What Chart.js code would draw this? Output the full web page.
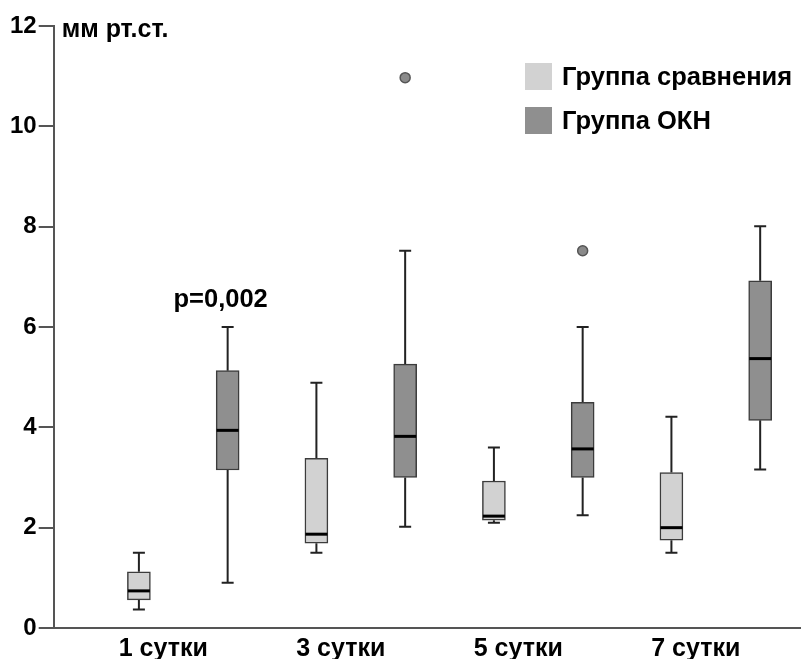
<!DOCTYPE html>
<html>
<head>
<meta charset="utf-8">
<script src="https://cdn.jsdelivr.net/npm/chart.js@4.4.0/dist/chart.umd.min.js"></script>
<style>
html, body { margin: 0; padding: 0; background: #fff; overflow: hidden; }
canvas { display: block; }
</style>
</head>
<body>
<canvas id="chart" width="801" height="659"></canvas>
<script>
var categories = ['1 сутки', '3 сутки', '5 сутки', '7 сутки'];
var yTicks = [0, 2, 4, 6, 8, 10, 12];

// Группа сравнения
var cmp_min = [0.37, 1.50, 2.10, 1.50];
var cmp_q1 = [0.56, 1.69, 2.15, 1.75];
var cmp_med = [0.74, 1.87, 2.23, 2.00];
var cmp_q3 = [1.12, 3.38, 2.93, 3.10];
var cmp_max = [1.50, 4.89, 3.60, 4.21];

// Группа ОКН
var okn_min = [0.90, 2.02, 2.25, 3.16];
var okn_q1 = [3.15, 3.00, 3.00, 4.14];
var okn_med = [3.94, 3.82, 3.57, 5.37];
var okn_q3 = [5.13, 5.26, 4.50, 6.92];
var okn_max = [6.00, 7.52, 6.00, 8.01];
var okn_outliers = [[], [10.97], [7.52], []];

var FONT = '"Liberation Sans", Arial, sans-serif';
var cmpShift = -0.25, oknShift = 0.25;

function boxData(q1, q3, shift) {
    return q1.map(function (v, i) { return {x: i + 1 + shift, y: [v, q3[i]]}; });
}

var outlierPoints = [];
okn_outliers.forEach(function (arr, i) {
    arr.forEach(function (v) { outlierPoints.push({x: i + 1 + oknShift, y: v}); });
});

var groups = [
    {shift: cmpShift, min: cmp_min, med: cmp_med, q1: cmp_q1, q3: cmp_q3, max: cmp_max},
    {shift: oknShift, min: okn_min, med: okn_med, q1: okn_q1, q3: okn_q3, max: okn_max}
];

// усы рисуем под коробками, медианы и подписи - поверх
var boxPlugin = {
    id: 'boxPlugin',
    beforeDatasetsDraw: function (chart) {
        var ctx = chart.ctx, xs = chart.scales.x, ys = chart.scales.y;
        ctx.save();
        ctx.strokeStyle = '#222';
        ctx.lineWidth = 2;
        groups.forEach(function (g) {
            for (var i = 0; i < categories.length; ++i) {
                var x = xs.getPixelForValue(i + 1 + g.shift);
                var yMin = ys.getPixelForValue(g.min[i]), yMax = ys.getPixelForValue(g.max[i]);
                ctx.beginPath();
                ctx.moveTo(x, yMin); ctx.lineTo(x, ys.getPixelForValue(g.q1[i]));
                ctx.moveTo(x, yMax); ctx.lineTo(x, ys.getPixelForValue(g.q3[i]));
                ctx.moveTo(x - 6, yMin); ctx.lineTo(x + 6, yMin);
                ctx.moveTo(x - 6, yMax); ctx.lineTo(x + 6, yMax);
                ctx.stroke();
            }
        });
        ctx.restore();
    },
    afterDatasetsDraw: function (chart) {
        var ctx = chart.ctx, xs = chart.scales.x, ys = chart.scales.y, area = chart.chartArea;
        ctx.save();
        ctx.strokeStyle = '#000';
        ctx.lineWidth = 3;
        groups.forEach(function (g) {
            for (var i = 0; i < categories.length; ++i) {
                var x = xs.getPixelForValue(i + 1 + g.shift);
                var y = ys.getPixelForValue(g.med[i]);
                ctx.beginPath();
                ctx.moveTo(x - 11, y); ctx.lineTo(x + 11, y);
                ctx.stroke();
            }
        });

        ctx.fillStyle = '#000';
        ctx.font = 'bold 25px ' + FONT;
        ctx.textAlign = 'left';
        ctx.textBaseline = 'alphabetic';
        ctx.fillText('мм рт.ст.', area.left + 8, 37);

        ctx.font = 'bold 25.5px ' + FONT;
        ctx.textAlign = 'center';
        ctx.fillText('p=0,002', xs.getPixelForValue(1 + oknShift) - 7, ys.getPixelForValue(okn_max[0]) - 20);

        // легенда
        var lx = area.right - 276, ly = area.top + 37;
        chart.data.datasets.forEach(function (ds, k) {
            if (ds.type === 'scatter') return;
            var y = ly + k * 44;
            ctx.fillStyle = ds.backgroundColor;
            ctx.fillRect(lx, y, 27, 27);
            ctx.fillStyle = '#000';
            ctx.textAlign = 'left';
            ctx.textBaseline = 'middle';
            ctx.fillText(ds.label, lx + 37, y + 15);
        });
        ctx.restore();
    }
};

var ctx = document.getElementById('chart').getContext('2d');
var chart = new Chart(ctx, {
    type: 'bar',
    data: {
        datasets: [{
            label: 'Группа сравнения',
            data: boxData(cmp_q1, cmp_q3, cmpShift),
            backgroundColor: '#d2d2d2',
            borderColor: '#3c3c3c',
            borderWidth: 1.5,
            borderSkipped: false,
            barThickness: 23,
            grouped: false
        }, {
            label: 'Группа ОКН',
            data: boxData(okn_q1, okn_q3, oknShift),
            backgroundColor: '#8f8f8f',
            borderColor: '#3c3c3c',
            borderWidth: 1.5,
            borderSkipped: false,
            barThickness: 23,
            grouped: false
        }, {
            type: 'scatter',
            label: 'outliers',
            data: outlierPoints,
            pointRadius: 5,
            backgroundColor: '#8a8a8a',
            borderColor: '#555',
            borderWidth: 1.5
        }]
    },
    options: {
        responsive: false,
        animation: false,
        devicePixelRatio: 1,
        layout: {autoPadding: false, padding: {left: 8, top: 26, right: 0, bottom: 0}},
        plugins: {legend: {display: false}, tooltip: {enabled: false}},
        scales: {
            x: {
                type: 'linear',
                offset: false,
                min: 0.27,
                max: 4.48,
                afterBuildTicks: function (scale) {
                    scale.ticks = categories.map(function (c, i) { return {value: i + 1}; });
                },
                afterFit: function (scale) {
                    scale.paddingLeft = 0;
                    scale.paddingRight = 0;
                    scale.height = 31;
                },
                ticks: {
                    callback: function (v) { return categories[v - 1] || ''; },
                    labelOffset: -20,
                    padding: 7,
                    maxRotation: 0,
                    autoSkip: false,
                    color: '#000',
                    font: {family: FONT, size: 25, weight: 'bold', lineHeight: 1.15}
                },
                grid: {offset: false, drawOnChartArea: false, drawTicks: false},
                border: {color: '#555', width: 2}
            },
            y: {
                min: 0,
                max: 12,
                afterBuildTicks: function (scale) {
                    scale.ticks = yTicks.map(function (v) { return {value: v}; });
                },
                ticks: {
                    padding: 2,
                    color: '#000',
                    font: {family: FONT, size: 24, weight: 'bold'}
                },
                grid: {drawOnChartArea: false, drawTicks: true, tickLength: 15, color: '#555', lineWidth: 2},
                border: {color: '#555', width: 2}
            }
        }
    },
    plugins: [boxPlugin]
});
</script>
</body>
</html>
